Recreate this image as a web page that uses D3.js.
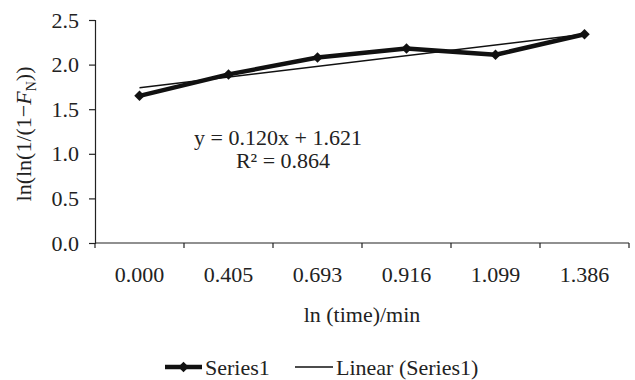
<!DOCTYPE html>
<html>
<head>
<meta charset="utf-8">
<script src="https://cdn.jsdelivr.net/npm/d3@7"></script>
<style>
  body { margin: 0; background: #fff; }
  text { font-family: "Liberation Serif", "Times New Roman", serif; fill: #222; }
</style>
</head>
<body>
<div id="chart"></div>
<script>
const categories = ["0.000", "0.405", "0.693", "0.916", "1.099", "1.386"];
const series1 = [1.65, 1.89, 2.08, 2.18, 2.11, 2.34];
const yTicks = [0, 0.5, 1.0, 1.5, 2.0, 2.5];
const trendSlope = 0.120;
const trendIntercept = 1.621;
const trendR2 = 0.864;

const width = 635, height = 380;
const margin = {top: 20, right: 6, bottom: 137, left: 95};
const w = width - margin.left - margin.right;
const h = height - margin.top - margin.bottom;
const fs = "22px";

const svg = d3.select("#chart").append("svg")
    .attr("width", width)
    .attr("height", height);

const g = svg.append("g")
    .attr("transform", `translate(${margin.left}, ${margin.top})`);

// scales
const x = d3.scaleBand().domain(categories).range([0, w]);
const y = d3.scaleLinear().domain([0, 2.5]).range([h, 0]);
const cx = c => x(c) + x.bandwidth() / 2;

// X axis (ticks on band edges, like excel)
const xAxis = g.append("g").attr("transform", `translate(0, ${h})`);
xAxis.append("line").attr("x1", 0).attr("x2", w).attr("stroke", "#222").attr("stroke-width", 1.2);
xAxis.selectAll(".edge")
    .data(d3.range(categories.length + 1))
    .enter().append("line")
    .attr("x1", i => i * x.bandwidth()).attr("x2", i => i * x.bandwidth())
    .attr("y1", 0).attr("y2", 5)
    .attr("stroke", "#222").attr("stroke-width", 1.2);
xAxis.selectAll(".lbl")
    .data(categories)
    .enter().append("text")
    .attr("x", d => cx(d))
    .attr("y", 39)
    .attr("text-anchor", "middle")
    .style("font-size", fs)
    .text(d => d);

// Y axis
const yAxis = g.append("g")
    .call(d3.axisLeft(y).tickValues(yTicks).tickFormat(d3.format(".1f")).tickSize(6).tickPadding(10));
yAxis.select(".domain").attr("stroke", "#222").attr("stroke-width", 1.2);
yAxis.selectAll(".tick line").attr("stroke", "#222").attr("stroke-width", 1.2);
yAxis.selectAll("text").style("font-size", fs).attr("fill", "#222")
    .style("font-family", "'Liberation Serif', serif");

// trend line
const tx1 = 1, tx2 = categories.length;
g.append("line")
    .attr("x1", cx(categories[0])).attr("y1", y(trendIntercept + trendSlope * tx1))
    .attr("x2", cx(categories[categories.length - 1])).attr("y2", y(trendIntercept + trendSlope * tx2))
    .attr("stroke", "#111").attr("stroke-width", 1.5);

// series line
const line = d3.line().x((d, i) => cx(categories[i])).y(d => y(d));
g.append("path")
    .datum(series1)
    .attr("d", line)
    .attr("fill", "none")
    .attr("stroke", "#111")
    .attr("stroke-width", 4.5)
    .attr("stroke-linejoin", "round");

const diamond = d3.symbol().type(d3.symbolSquare).size(55);
g.selectAll(".pt")
    .data(series1)
    .enter().append("path")
    .attr("d", diamond)
    .attr("transform", (d, i) => `translate(${cx(categories[i])}, ${y(d)}) rotate(45)`)
    .attr("fill", "#111");

// equation
const eq = g.append("text")
    .attr("x", 183).attr("y", 125)
    .attr("text-anchor", "middle")
    .style("font-size", fs);
eq.append("tspan").attr("x", 183).text(`y = ${trendSlope.toFixed(3)}x + ${trendIntercept.toFixed(3)}`);
eq.append("tspan").attr("x", 188).attr("dy", 23).text(`R² = ${trendR2.toFixed(3)}`);

// axis titles
svg.append("text")
    .attr("x", margin.left + w / 2).attr("y", 322)
    .attr("text-anchor", "middle")
    .style("font-size", fs)
    .text("ln (time)/min");

const yt = svg.append("text")
    .attr("transform", "translate(31, 134) rotate(-90)")
    .attr("text-anchor", "middle")
    .style("font-size", fs);
yt.append("tspan").text("ln(ln(1/(1\u2212");
yt.append("tspan").style("font-style", "italic").text("F");
yt.append("tspan").attr("dy", 5).style("font-size", "14px").text("N");
yt.append("tspan").attr("dy", -5).text("))");

// legend
const leg = svg.append("g").attr("transform", "translate(0, 367)");
leg.append("line").attr("x1", 165).attr("x2", 202).attr("stroke", "#111").attr("stroke-width", 4.5);
leg.append("path").attr("d", diamond).attr("transform", "translate(183.5, 0) rotate(45)").attr("fill", "#111");
leg.append("text").attr("x", 205).attr("y", 8).style("font-size", fs).text("Series1");
leg.append("line").attr("x1", 295).attr("x2", 333).attr("stroke", "#111").attr("stroke-width", 1.5);
leg.append("text").attr("x", 336).attr("y", 8).style("font-size", fs).text("Linear (Series1)");
</script>
</body>
</html>
